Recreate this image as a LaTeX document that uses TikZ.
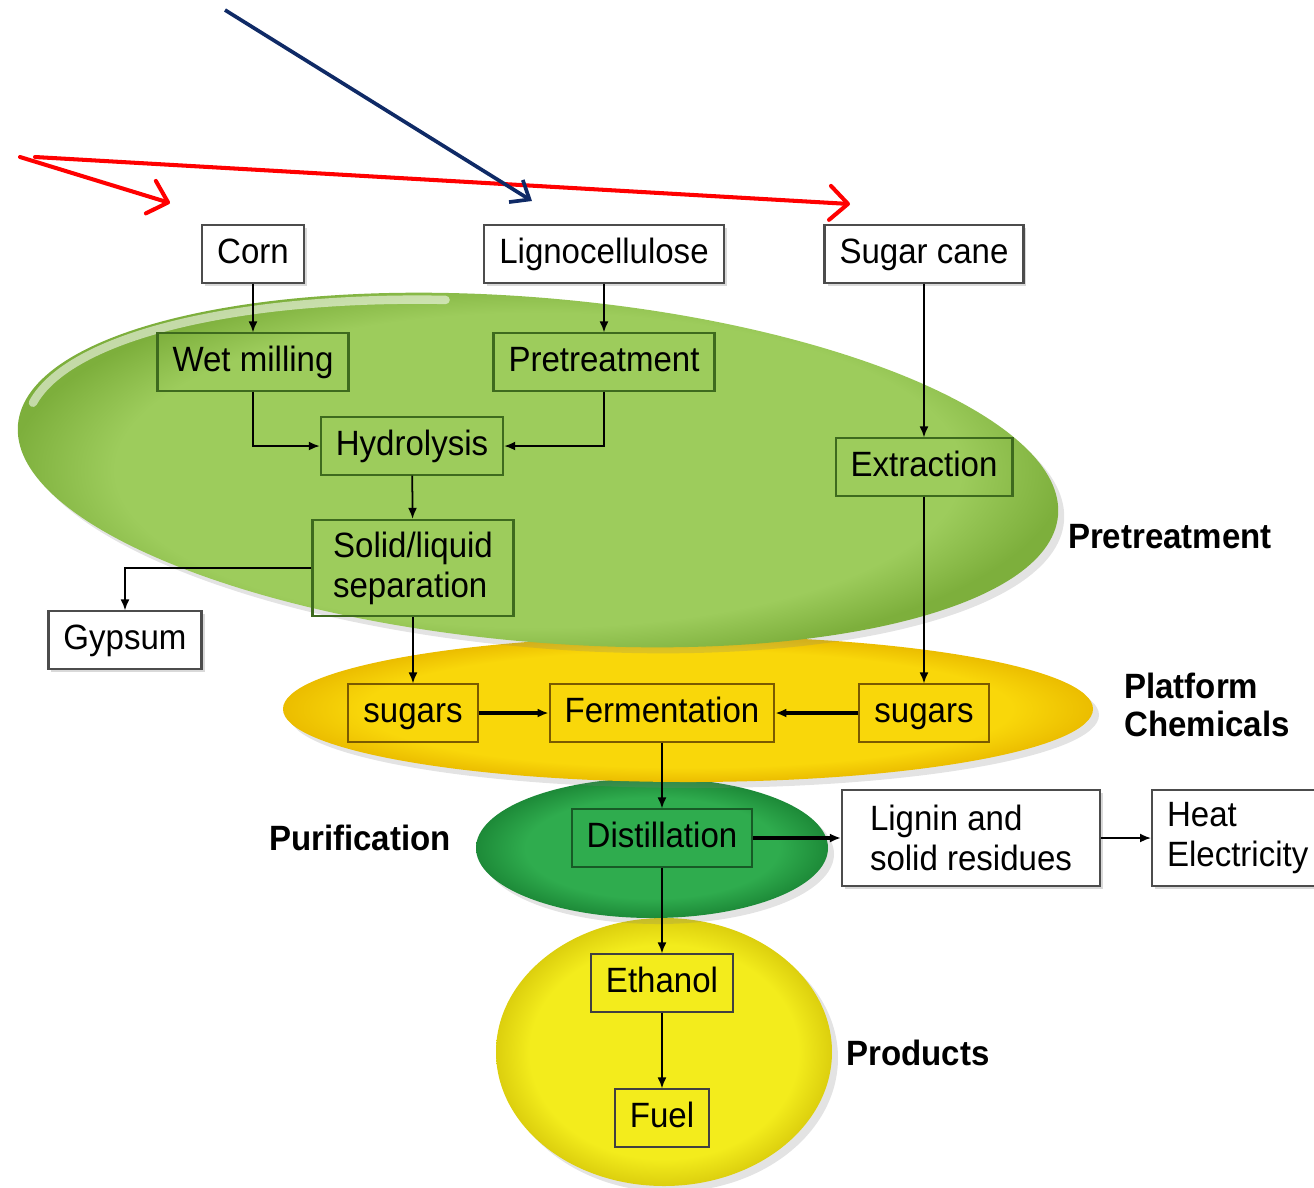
\documentclass[tikz,border=0pt]{standalone}
\usepackage{fontspec}
\setmainfont{Liberation Sans}[FakeStretch=0.94]
\usetikzlibrary{arrows.meta}
\usetikzlibrary{shadows}

\definecolor{pregreen}{HTML}{9DCC5C}
\definecolor{pregreenrim}{HTML}{7DAF3C}
\definecolor{platyellow}{HTML}{F9D70A}
\definecolor{platrim}{HTML}{EBBD00}
\definecolor{purgreen}{HTML}{2FAC4E}
\definecolor{purrim}{HTML}{1D8A38}
\definecolor{prodyellow}{HTML}{F3EC1C}
\definecolor{prodrim}{HTML}{DCCF0E}
\definecolor{boxgreen}{HTML}{3E6A1E}
\definecolor{boxyellow}{HTML}{7A5A00}
\definecolor{boxdark}{HTML}{175A26}
\definecolor{navy}{HTML}{0F2A66}

\pgfdeclareradialshading{prerim}{\pgfpoint{0bp}{0bp}}{color(0bp)=(pregreen); color(20bp)=(pregreen); color(25bp)=(pregreenrim); color(50bp)=(pregreenrim)}
\pgfdeclareradialshading{platshade}{\pgfpoint{0bp}{0bp}}{color(0bp)=(platyellow); color(20bp)=(platyellow); color(25bp)=(platrim); color(50bp)=(platrim)}
\pgfdeclareradialshading{purshade}{\pgfpoint{0bp}{0bp}}{color(0bp)=(purgreen); color(18bp)=(purgreen); color(25bp)=(purrim); color(50bp)=(purrim)}
\pgfdeclareradialshading{prodshade}{\pgfpoint{0bp}{0bp}}{color(0bp)=(prodyellow); color(20bp)=(prodyellow); color(25bp)=(prodrim); color(50bp)=(prodrim)}

\begin{document}
\begin{tikzpicture}[x=0.1mm, y=-0.1mm, font=\fontsize{10}{11.4}\selectfont]
\tikzset{flow/.style = {-{Latex[length=1.1mm, width=0.9mm]}, line width=.5pt}}
\tikzset{thickflow/.style = {flow, line width=1.1pt}}
\tikzset{plainbox/.style = {rectangle, draw=black!70, line width=.6pt, fill=white, inner xsep=1.5mm, minimum height=5.5mm,
    text height=7.6pt, text depth=2pt, drop shadow={shadow xshift=.3mm, shadow yshift=-.3mm, opacity=.3}}}
\tikzset{greenbox/.style = {rectangle, draw=boxgreen, line width=.6pt, inner xsep=1.5mm, minimum height=5.5mm,
    text height=7.6pt, text depth=2pt}}
\tikzset{yellowbox/.style = {greenbox, draw=boxyellow}}
\tikzset{darkbox/.style = {greenbox, draw=boxdark}}
\tikzset{twoline/.style = {align=left, minimum height=9.6mm, text height=, text depth=}}
\tikzset{stage/.style = {font=\fontsize{10}{11}\selectfont\bfseries, align=left}}
\tikzset{ring/.style = {drop shadow={shadow xshift=.6mm, shadow yshift=-.6mm, opacity=.22}}}
\tikzset{redarrow/.style = {draw=red, line width=1.15pt, line cap=round, -{Straight Barb[length=1.8mm, width=3.4mm, round]}}}
\tikzset{bluearrow/.style = {draw=navy, line width=1.05pt, -{Straight Barb[length=1.6mm, width=2.6mm]}}}

   \useasboundingbox (0,0) rectangle (1314,1187);

   % stages
   \shade[shading=prodshade, ring] (664,1052) ellipse [x radius=168, y radius=134];
   \shade[shading=purshade, ring] (652,848) ellipse [x radius=176, y radius=70];
   \shade[shading=platshade, ring] (688,709) ellipse [x radius=405, y radius=73];
   \begin{scope}[rotate around={-5:(538,470)}]
   \shade[shading=prerim, ring] (538,470) ellipse [x radius=522, y radius=172];
   \draw[white, opacity=.55, line width=2.4pt, line cap=round] (538,470) ++(188:514 and 165)
      arc [start angle=188, end angle=258, x radius=514, y radius=165];
   \end{scope}

   \node[stage] (lblpre) at (1170,537) {Pretreatment};
   \node[stage] (lblplat) at (1207,705) {Platform\\Chemicals};
   \node[stage] (lblpur) at (360,838) {Purification};
   \node[stage] (lblprod) at (918,1053) {Products};

   % feedstocks
   \node[plainbox] (corn) at (253,254) {Corn};
   \node[plainbox] (ligno) at (604,254) {Lignocellulose};
   \node[plainbox] (cane) at (924,254) {Sugar cane};

   \node[greenbox] (wet) at (253,362) {Wet milling};
   \node[greenbox] (pretreat) at (604,362) {Pretreatment};
   \node[greenbox] (hydro) at (412,446) {Hydrolysis};
   \node[greenbox] (extract) at (924,467) {Extraction};
   \node[greenbox, twoline, minimum width=20.1mm] (solid) at (413,568) {Solid/liquid\\separation};
   \node[plainbox] (gypsum) at (125,640) {Gypsum};

   \node[yellowbox] (sugl) at (413,713) {sugars};
   \node[yellowbox] (ferm) at (662,713) {Fermentation};
   \node[yellowbox] (sugr) at (924,713) {sugars};

   \node[darkbox] (distil) at (662,838) {Distillation};
   \node[plainbox, twoline, minimum width=25.8mm] (lignin) at (971,838) {Lignin and\\solid residues};
   \node[plainbox, twoline, anchor=west, text width=17mm] (heat) at (1151,838) {Heat\\Electricity};

   \node[yellowbox, draw=black!75] (ethanol) at (662,983) {Ethanol};
   \node[yellowbox, draw=black!75] (fuel) at (662,1118) {Fuel};

   \draw[flow] (corn) -- (wet);
   \draw[flow] (ligno) -- (pretreat);
   \draw[flow] (cane) -- (extract);
   \draw[flow] (wet.south) |- (hydro.west);
   \draw[flow] (pretreat.south) |- (hydro.east);
   \draw[flow] (hydro) -- (solid);
   \draw[flow] (solid.west) -| (gypsum.north);
   \draw[flow] (solid) -- (sugl);
   \draw[flow] (extract) -- (sugr);
   \draw[thickflow] (sugl) -- (ferm);
   \draw[thickflow] (sugr) -- (ferm);
   \draw[flow] (ferm) -- (distil);
   \draw[thickflow] (distil) -- (lignin);
   \draw[flow] (lignin) -- (heat);
   \draw[flow] (distil) -- (ethanol);
   \draw[flow] (ethanol) -- (fuel);

   % pointers
   \coordinate (r0) at (20,157);
   \coordinate (r1) at (170,203);
   \coordinate (r2) at (35,157);
   \coordinate (r3) at (850,204);
   \coordinate (b0) at (225,10);
   \coordinate (b1) at (532,201);
   \draw[redarrow] (r0) -- (r1);
   \draw[redarrow] (r2) -- (r3);
   \draw[bluearrow] (b0) -- (b1);

\end{tikzpicture}
\end{document}
